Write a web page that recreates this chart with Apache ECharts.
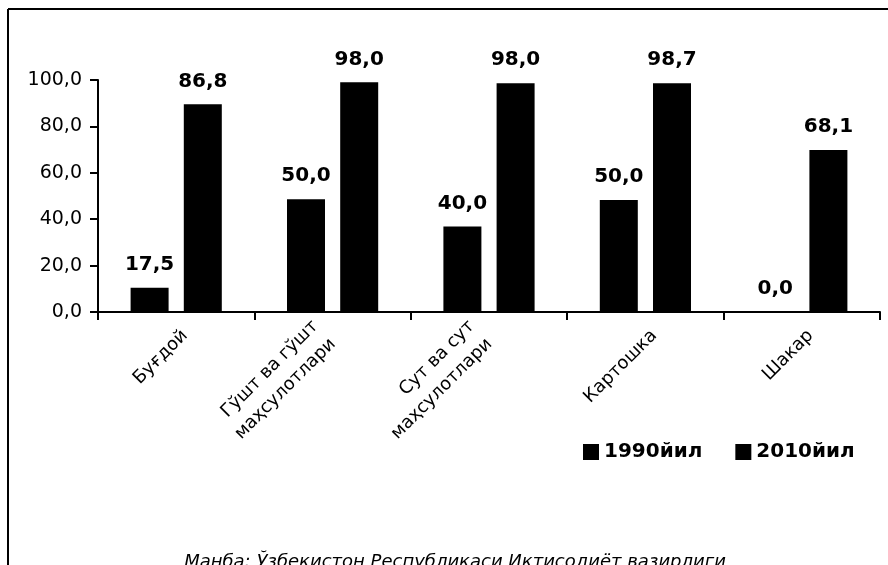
<!DOCTYPE html>
<html>
<head>
<meta charset="utf-8">
<script src="https://cdn.jsdelivr.net/npm/echarts@6/dist/echarts.min.js"></script>
<style>
  html, body { margin: 0; padding: 0; background: #fff; }
  #chart { width: 888px; height: 565px; }
</style>
</head>
<body>
<div id="chart"></div>
<script>
// categories (x axis)
var categories = ['Буғдой', 'Гўшт ва гўшт\nмаҳсулотлари', 'Сут ва сут\nмаҳсулотлари', 'Картошка', 'Шакар'];
var seriesNames = ['1990йил', '2010йил'];

// bar heights as drawn in the picture
var values1990 = [10.5, 48.6, 36.8, 48.3, 0];
var values2010 = [89.5, 99.0, 98.6, 98.6, 69.8];

// printed labels above the bars
var labels1990 = ['17,5', '50,0', '40,0', '50,0', '0,0'];
var labels2010 = ['86,8', '98,0', '98,0', '98,7', '68,1'];

var yTicks = [0, 20, 40, 60, 80, 100];
var sourceText = 'Манба: Ўзбекистон Республикаси Иктисодиёт вазирлиги';

var FONT = '"DejaVu Sans", sans-serif';

var myChart = echarts.init(document.getElementById('chart'));

function barLabel(texts) {
  return {
    show: true,
    position: 'top',
    distance: 13,
    color: '#000',
    fontFamily: FONT,
    fontWeight: 'bold',
    fontSize: 20,
    formatter: function (p) { return texts[p.dataIndex]; }
  };
}

// one-line names hang below the tick, two-line names sit centred on it
var xData = categories.map(function (c) {
  var twoLines = c.indexOf('\n') >= 0;
  return {
    value: c,
    textStyle: twoLines
      ? { verticalAlign: 'middle', padding: [10, 12, 0, 0] }
      : { verticalAlign: 'top' }
  };
});

var option = {
  backgroundColor: '#fff',
  animation: false,
  grid: { left: 98, right: 8, top: 80, bottom: 253 },
  legend: {
    data: seriesNames,
    left: 578,
    top: 437,
    icon: 'rect',
    itemWidth: 16,
    itemHeight: 16,
    itemGap: 33,
    textStyle: { color: '#000', fontFamily: FONT, fontWeight: 'bold', fontSize: 20 }
  },
  xAxis: {
    type: 'category',
    data: xData,
    axisLine: { lineStyle: { color: '#000', width: 2 } },
    axisTick: { show: true, length: 8, lineStyle: { color: '#000', width: 2 } },
    axisLabel: {
      rotate: 45,
      margin: 12,
      interval: 0,
      color: '#000',
      fontFamily: FONT,
      fontSize: 18,
      lineHeight: 25
    }
  },
  yAxis: {
    type: 'value',
    min: 0,
    max: 100,
    interval: 20,
    splitLine: { show: false },
    axisLine: { show: true, lineStyle: { color: '#000', width: 2 } },
    axisTick: { show: true, length: 8, lineStyle: { color: '#000', width: 2 } },
    axisLabel: {
      margin: 16,
      color: '#000',
      fontFamily: FONT,
      fontSize: 19,
      customValues: yTicks,
      formatter: function (v) { return v.toFixed(1).replace('.', ','); }
    }
  },
  series: [
    {
      name: seriesNames[0],
      type: 'bar',
      data: values1990,
      barWidth: 38,
      barGap: '40%',
      itemStyle: { color: '#000' },
      label: barLabel(labels1990)
    },
    {
      name: seriesNames[1],
      type: 'bar',
      data: values2010,
      barWidth: 38,
      itemStyle: { color: '#000' },
      label: barLabel(labels2010)
    }
  ],
  graphic: [
    { type: 'line', shape: { x1: 8, y1: 9, x2: 888, y2: 9 }, style: { stroke: '#000', lineWidth: 2 } },
    { type: 'line', shape: { x1: 8, y1: 9, x2: 8, y2: 565 }, style: { stroke: '#000', lineWidth: 2 } },
    {
      type: 'text',
      x: 455,
      y: 562,
      style: {
        text: sourceText,
        align: 'center',
        verticalAlign: 'middle',
        fontFamily: FONT,
        fontStyle: 'italic',
        fontSize: 18,
        fill: '#000'
      }
    }
  ]
};

myChart.setOption(option);
</script>
</body>
</html>
